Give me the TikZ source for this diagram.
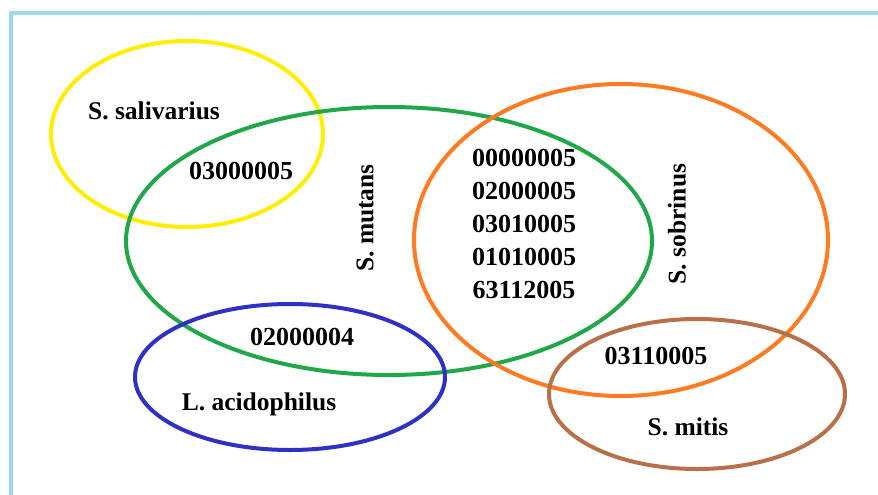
\documentclass[tikz,border=0pt]{standalone}
\usepackage{fontspec}
\setmainfont{Liberation Serif}
\usetikzlibrary{positioning}
\definecolor{frameblue}{RGB}{160,214,230}
\definecolor{setyellow}{RGB}{255,238,0}
\definecolor{setgreen}{RGB}{32,168,72}
\definecolor{setorange}{RGB}{255,122,32}
\definecolor{setblue}{RGB}{48,48,196}
\definecolor{setbrown}{RGB}{184,112,72}

\begin{document}
\begin{tikzpicture}[
  x=1pt, y=-1pt,
  set/.style={line width=4pt},
  species/.style={font=\fontsize{25.5}{30}\selectfont\bfseries, inner sep=0pt},
  code/.style={font=\fontsize{26}{33}\selectfont\bfseries, inner sep=0pt, align=center}
]
\useasboundingbox (0,0) rectangle (878,495);

% Frame
\draw[frameblue, line width=4.5pt] (11,495) -- (11,13) -- (878,13);

% Sets
\draw[set, setyellow] (187,134) ellipse [x radius=136pt, y radius=93pt];
\draw[set, setgreen] (389,241) ellipse [x radius=263pt, y radius=134pt];
\draw[set, setorange] (621,240) ellipse [x radius=207pt, y radius=156pt];
\draw[set, setblue] (290,377) ellipse [x radius=155pt, y radius=73pt];
\draw[set, setbrown] (697,394) ellipse [x radius=148pt, y radius=75pt];

% Species names
\node[species] (salivarius) at (154,111) {S. salivarius};
\node[species, rotate=90] (mutans) at (365,218) {S. mutans};
\node[species, rotate=90] (sobrinus) at (677,224) {S. sobrinus};
\node[species] (acidophilus) at (259,404) {L. acidophilus};
\node[species] (mitis) at (688,427) {S. mitis};

% Shared codes
\node[code] (salmut) at (241,171) {03000005};
\node[code] (mutsob) at (524,224) {00000005\\02000005\\03010005\\01010005\\63112005};
\node[code] (mutaci) at (302,337) {02000004};
\node[code] (sobmit) at (656,356) {03110005};
\end{tikzpicture}
\end{document}
